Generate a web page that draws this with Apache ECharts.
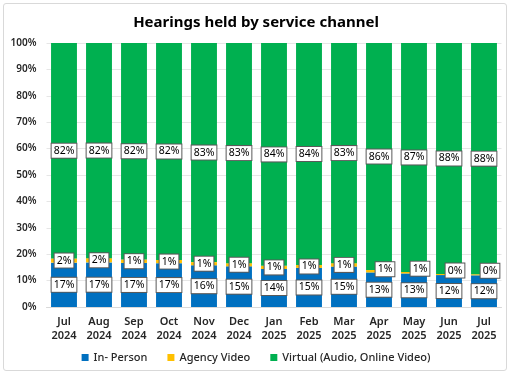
<!DOCTYPE html>
<html><head><meta charset="utf-8">
<script src="https://cdn.jsdelivr.net/npm/echarts@6/dist/echarts.min.js"></script>
<style>
html,body{margin:0;padding:0;background:#fff;}
#frame{position:absolute;left:3px;top:3px;width:504px;height:368px;border:1px solid #d9d9d9;border-radius:3px;box-sizing:border-box;}
#c{position:absolute;left:0;top:0;width:512px;height:378px;}
</style></head>
<body><div id="frame"></div><div id="c"></div>
<script>
const categories = ["Jul\n2024","Aug\n2024","Sep\n2024","Oct\n2024","Nov\n2024","Dec\n2024","Jan\n2025","Feb\n2025","Mar\n2025","Apr\n2025","May\n2025","Jun\n2025","Jul\n2025"];
const inPerson = [16.8,16.9,16.7,16.6,15.8,15.4,14.4,14.8,15.3,13.1,12.7,12.1,12.0];
const agencyVideo = [1.6,1.6,1.3,1.2,1.2,1.2,1.2,1.1,1.3,0.9,0.6,0.4,0.4];
const virtualAV = [81.6,81.5,82.0,82.2,83.0,83.4,84.4,84.1,83.4,86.0,86.7,87.5,87.6];
const yTicks = [0,10,20,30,40,50,60,70,80,90,100];

const font = '"Noto Sans", sans-serif';
const boxLabel = {
  show:true, position:'inside', formatter: p => Math.round(p.value) + '%',
  color:'#000', fontSize:10.5, fontFamily:font,
  backgroundColor:'#fff', borderColor:'#595959', borderWidth:1, padding:[2,2,1,2]
};
const agencyData = agencyVideo.map((v,i) => {
  const o = {value:v};
  if (i >= 9) o.label = {offset:[6, i>=10 ? -4 : -2]};
  return o;
});
const chart = echarts.init(document.getElementById('c'), null, {renderer:'canvas'});
chart.setOption({
  animation:false,
  title:{text:'Hearings held by service channel', left:'center', top:10,
    textStyle:{fontFamily:font, fontSize:15, fontWeight:'bold', color:'#000'}},
  grid:{left:46.5, right:10.5, top:43, bottom:71, containLabel:false},
  legend:{bottom:10, left:'center', itemWidth:7, itemHeight:7, itemGap:20, icon:'rect',
    textStyle:{fontFamily:font, fontSize:11, color:'#262626', fontWeight:500},
    data:['In- Person','Agency Video','Virtual (Audio, Online Video)']},
  xAxis:{type:'category', data:categories,
    axisLine:{lineStyle:{color:'#d9d9d9'}}, axisTick:{show:false},
    axisLabel:{fontFamily:font, fontSize:11, fontWeight:600, color:'#262626', lineHeight:14, margin:8, interval:0}},
  yAxis:{type:'value', min:0, max:100, interval:10,
    axisLabel:{formatter: v => yTicks.includes(v) ? v + '%' : '', fontFamily:font, fontSize:10, fontWeight:600, color:'#262626', margin:10},
    splitLine:{lineStyle:{color:'#e6e6e6'}}, axisLine:{show:false}, axisTick:{show:false}},
  series:[
    {name:'In- Person', type:'bar', stack:'t', data:inPerson, barCategoryGap:'26%', itemStyle:{color:'#0070C0'}, label:boxLabel},
    {name:'Agency Video', type:'bar', stack:'t', data:agencyData, itemStyle:{color:'#FFC000'}, label:boxLabel},
    {name:'Virtual (Audio, Online Video)', type:'bar', stack:'t', data:virtualAV, itemStyle:{color:'#00B050'}, label:boxLabel}
  ]
});
</script></body></html>
